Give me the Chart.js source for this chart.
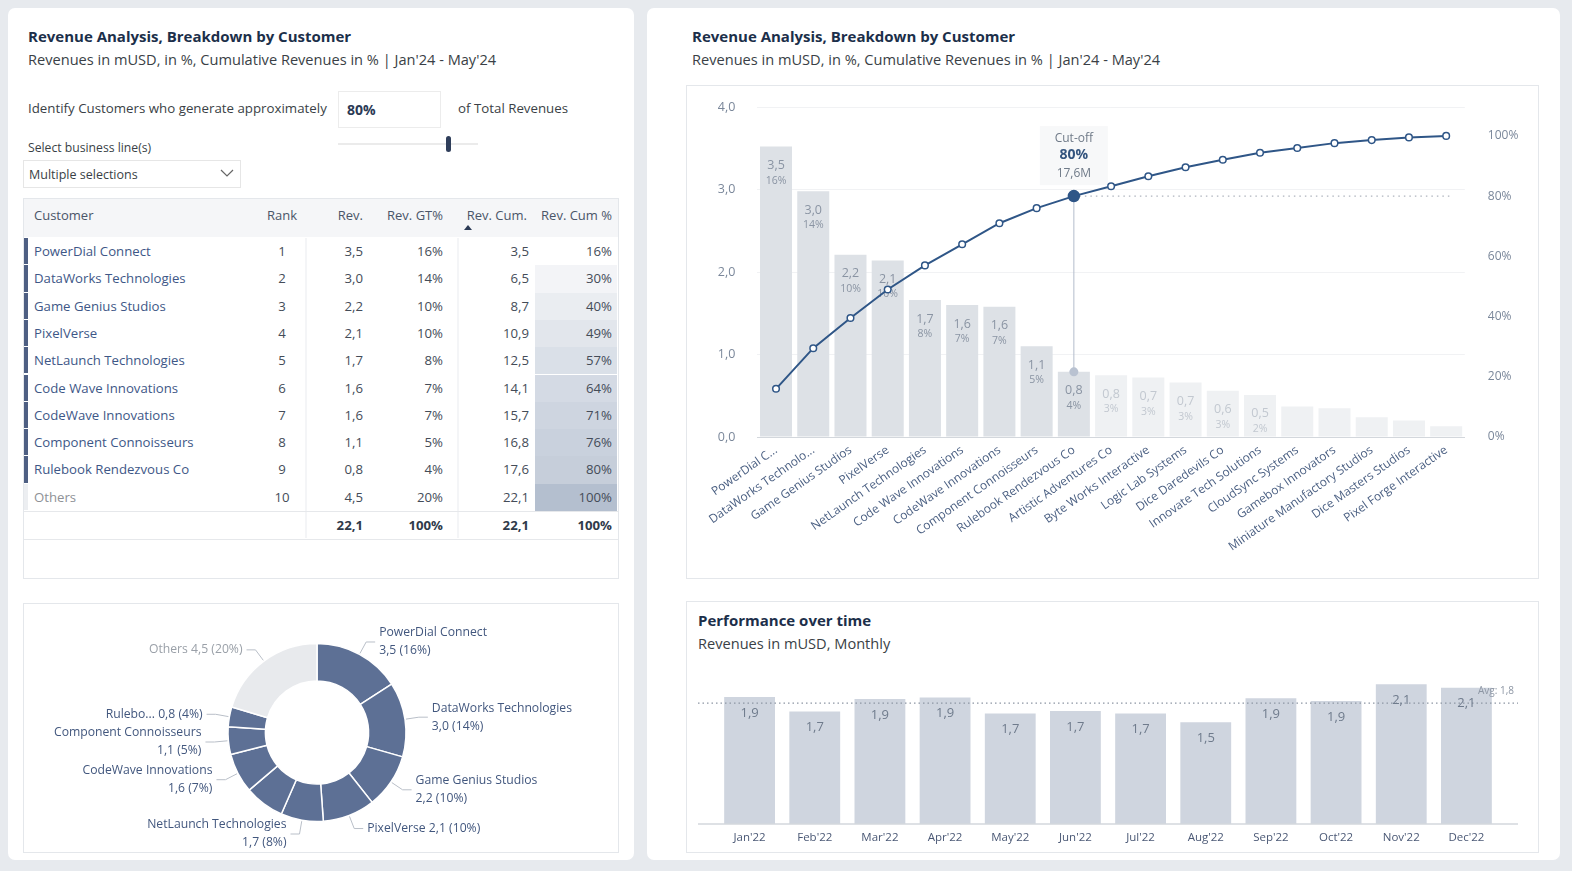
<!DOCTYPE html>
<html>
<head>
<meta charset="utf-8">
<title>Revenue Analysis</title>
<script src="https://cdn.jsdelivr.net/npm/chart.js@4.4.1/dist/chart.umd.min.js"></script>
<style>
  body { margin:0; width:1572px; height:871px; background:#e7eaee; font-family:'Open Sans', sans-serif; position:relative; overflow:hidden; }
  .panel { position:absolute; background:#fff; border-radius:7px; }
  .box { position:absolute; border:1px solid #e4e7eb; background:#fff; box-sizing:border-box; }
  .t { position:absolute; white-space:nowrap; }
  .title { font-size:15px; font-weight:700; color:#1c2f4a; line-height:20px; }
  .sub { font-size:14.6px; color:#3a3f46; line-height:20px; }
  .cell { position:absolute; white-space:nowrap; font-size:13.2px; line-height:27px; color:#444c58; }
  canvas { position:absolute; }
</style>
</head>
<body>
<div class="panel" style="left:8px;top:8px;width:626px;height:852px"></div>
<div class="panel" style="left:647px;top:8px;width:913px;height:852px"></div>

<div class="t title" style="left:28px;top:26px">Revenue Analysis, Breakdown by Customer</div>
<div class="t sub" style="left:28px;top:49px">Revenues in mUSD, in %, Cumulative Revenues in % | Jan'24 - May'24</div>
<div class="t" style="left:28px;top:99px;font-size:13.3px;color:#3a3f46">Identify Customers who generate approximately</div>
<div class="box" style="left:338px;top:91px;width:103px;height:37px;border-color:#ececec"></div>
<div class="t" style="left:347px;top:100px;font-size:14px;font-weight:700;color:#2b3a55">80%</div>
<div class="t" style="left:458px;top:99px;font-size:13.3px;color:#3a3f46">of Total Revenues</div>
<div style="position:absolute;left:338px;top:143px;width:140px;height:2px;background:#ebebeb"></div>
<div style="position:absolute;left:446px;top:136px;width:5px;height:16px;border-radius:3px;background:#2f3e5a"></div>
<div class="t" style="left:28px;top:139px;font-size:12.2px;color:#3a3f46">Select business line(s)</div>
<div class="box" style="left:23px;top:160px;width:218px;height:28px;border-color:#e6e6e6"></div>
<div class="t" style="left:29px;top:166px;font-size:12.5px;color:#3a3f46">Multiple selections</div>
<svg style="position:absolute;left:220px;top:169px" width="14" height="9"><polyline points="1,1 7,7 13,1" fill="none" stroke="#666" stroke-width="1.2"/></svg>

<div id="tbl" class="box" style="left:23px;top:198px;width:596px;height:381px"></div>

<div class="box" style="left:23px;top:603px;width:596px;height:250px"></div>
<canvas id="donut" width="593" height="247" style="left:24px;top:604px"></canvas>

<div class="t title" style="left:692px;top:26px">Revenue Analysis, Breakdown by Customer</div>
<div class="t sub" style="left:692px;top:49px">Revenues in mUSD, in %, Cumulative Revenues in % | Jan'24 - May'24</div>
<div class="box" style="left:686px;top:85px;width:853px;height:494px"></div>
<canvas id="pareto" width="852" height="490" style="left:686px;top:86px"></canvas>

<div class="box" style="left:686px;top:601px;width:853px;height:252px"></div>
<div class="t title" style="left:698px;top:610px">Performance over time</div>
<div class="t sub" style="left:698px;top:633px">Revenues in mUSD, Monthly</div>
<canvas id="perf" width="850" height="191" style="left:687px;top:660px"></canvas>

<script>
// ---- table / donut data (top customers, Jan'24 - May'24) ----
const customers = ['PowerDial Connect', 'DataWorks Technologies', 'Game Genius Studios', 'PixelVerse',
  'NetLaunch Technologies', 'Code Wave Innovations', 'CodeWave Innovations', 'Component Connoisseurs',
  'Rulebook Rendezvous Co', 'Others'];
const revenue = [3.5, 3.0, 2.2, 2.1, 1.7, 1.6, 1.6, 1.1, 0.8, 4.5];
const revGtPct = [16, 14, 10, 10, 8, 7, 7, 5, 4, 20];
const revCum = [3.5, 6.5, 8.7, 10.9, 12.5, 14.1, 15.7, 16.8, 17.6, 22.1];
const revCumPct = [16, 30, 40, 49, 57, 64, 71, 76, 80, 100];
const totalRevenue = 22.1;
const donutNames = ['PowerDial Connect', 'DataWorks Technologies', 'Game Genius Studios', 'PixelVerse',
  'NetLaunch Technologies', 'Code Wave Innovations', 'CodeWave Innovations', 'Component Connoisseurs',
  'Rulebo...', 'Others'];

// ---- pareto data (all customers) ----
const paretoLabels = ['PowerDial C...', 'DataWorks Technolo...', 'Game Genius Studios', 'PixelVerse',
  'NetLaunch Technologies', 'Code Wave Innovations', 'CodeWave Innovations', 'Component Connoisseurs',
  'Rulebook Rendezvous Co', 'Artistic Adventures Co', 'Byte Works Interactive', 'Logic Lab Systems',
  'Dice Daredevils Co', 'Innovate Tech Solutions', 'CloudSync Systems', 'Gamebox Innovators',
  'Miniature Manufactory Studios', 'Dice Masters Studios', 'Pixel Forge Interactive'];
const paretoRevenue = [3.52, 2.98, 2.21, 2.14, 1.66, 1.60, 1.58, 1.10, 0.79, 0.75, 0.72, 0.66, 0.56, 0.51,
  0.37, 0.35, 0.24, 0.20, 0.13];
const paretoPct = [16, 14, 10, 10, 8, 7, 7, 5, 4, 3, 3, 3, 3, 2];
const paretoCumPct = [16, 29.5, 39.5, 49, 57, 64, 71, 76, 80, 83.3, 86.6, 89.6, 92.1, 94.4, 96, 97.6, 98.6, 99.5, 100];
const cutoffIndex = 8;
const cutoffShare = '80%';
const cutoffRevenue = '17,6M';

// ---- monthly performance ----
const months = ["Jan'22", "Feb'22", "Mar'22", "Apr'22", "May'22", "Jun'22", "Jul'22", "Aug'22",
  "Sep'22", "Oct'22", "Nov'22", "Dec'22"];
const monthlyRevenue = [1.91, 1.69, 1.88, 1.90, 1.66, 1.70, 1.66, 1.53, 1.89, 1.85, 2.10, 2.05];

const fmt1 = v => (Math.round(v * 10) / 10).toFixed(1).replace('.', ',');
Chart.defaults.font.family = "'Open Sans', sans-serif";

// ---------- table ----------
const tbl = document.getElementById('tbl');
function cell(text, left, width, top, align, style) {
  const d = document.createElement('div');
  d.className = 'cell';
  d.textContent = text;
  d.style.left = left + 'px';
  d.style.top = top + 'px';
  if (width) { d.style.width = width + 'px'; d.style.textAlign = align; }
  if (style) Object.assign(d.style, style);
  tbl.appendChild(d);
  return d;
}
function rect(left, top, w, h, bg) {
  const d = document.createElement('div');
  Object.assign(d.style, { position: 'absolute', left: left + 'px', top: top + 'px', width: w + 'px', height: h + 'px', background: bg });
  tbl.appendChild(d);
}
rect(0, 0, 594, 38, '#f5f6f8');
const hdr = { color: '#4a5568', lineHeight: '32px', fontSize: '13px' };
cell('Customer', 10, 0, 0, 'left', hdr);
cell('Rank', 228, 60, 0, 'center', hdr);
cell('Rev.', 279, 60, 0, 'right', hdr);
cell('Rev. GT%', 339, 80, 0, 'right', hdr);
cell('Rev. Cum.', 423, 80, 0, 'right', hdr);
cell('Rev. Cum %', 508, 80, 0, 'right', hdr);
const tri = document.createElement('div');
Object.assign(tri.style, { position: 'absolute', left: '440px', top: '26px', width: 0, height: 0,
  borderLeft: '4px solid transparent', borderRight: '4px solid transparent', borderBottom: '5px solid #2b3a55' });
tbl.appendChild(tri);

const rowH = 27.3, rowTop = 39;
rect(281, rowTop, 2, rowH * 11, '#f4f5f7');
rect(433, rowTop, 2, rowH * 11, '#f4f5f7');
customers.forEach((name, i) => {
  const top = rowTop + rowH * i;
  const isOther = name === 'Others';
  rect(0, top, 3.5, rowH - 1, isOther ? '#eceef1' : '#4e5f83');
  const t = (revCumPct[i] - revCumPct[0]) / (100 - revCumPct[0]);
  const c = [255 - t * 75, 255 - t * 64, 255 - t * 48].map(Math.round);
  rect(511, top, 82, rowH, `rgb(${c[0]},${c[1]},${c[2]})`);
  cell(name, 10, 0, top, 'left', { color: isOther ? '#8e9196' : '#3e5787' });
  cell(String(i + 1), 228, 60, top, 'center');
  cell(fmt1(revenue[i]), 279, 60, top, 'right');
  cell(revGtPct[i] + '%', 339, 80, top, 'right');
  cell(fmt1(revCum[i]), 445, 60, top, 'right');
  cell(revCumPct[i] + '%', 508, 80, top, 'right');
});
const totTop = rowTop + rowH * 10;
rect(0, totTop, 594, 1, '#e6e8eb');
rect(0, totTop + 28, 594, 1, '#e6e8eb');
const bold = { fontWeight: '700', color: '#2f3a4a' };
cell(fmt1(totalRevenue), 279, 60, totTop + 1, 'right', bold);
cell('100%', 339, 80, totTop + 1, 'right', bold);
cell(fmt1(revCum[revCum.length - 1]), 445, 60, totTop + 1, 'right', bold);
cell('100%', 508, 80, totTop + 1, 'right', bold);

// ---------- donut ----------
const donutLabelPlugin = {
  id: 'donutLabels',
  afterDatasetsDraw(chart) {
    const ctx = chart.ctx;
    const meta = chart.getDatasetMeta(0);
    const singleLine = [3, 8, 9];
    const hidden = [5];
    ctx.save();
    ctx.font = "12.2px 'Open Sans'";
    meta.data.forEach((arc, i) => {
      if (hidden.includes(i)) return;
      const mid = (arc.startAngle + arc.endAngle) / 2;
      const r = arc.outerRadius;
      const cx = arc.x, cy = arc.y;
      const x1 = cx + Math.cos(mid) * (r + 1), y1 = cy + Math.sin(mid) * (r + 1);
      const x2 = cx + Math.cos(mid) * (r + 14), y2 = cy + Math.sin(mid) * (r + 14);
      const right = Math.cos(mid) >= 0;
      const x3 = x2 + (right ? 9 : -9);
      ctx.strokeStyle = '#b9bfc8';
      ctx.lineWidth = 1;
      ctx.beginPath(); ctx.moveTo(x1, y1); ctx.lineTo(x2, y2); ctx.lineTo(x3, y2); ctx.stroke();
      ctx.fillStyle = customers[i] === 'Others' ? '#9aa0a8' : '#42577e';
      ctx.textAlign = right ? 'left' : 'right';
      ctx.textBaseline = 'middle';
      const tx = x3 + (right ? 4 : -4);
      const valTxt = fmt1(revenue[i]) + ' (' + revGtPct[i] + '%)';
      if (singleLine.includes(i)) {
        ctx.fillText(donutNames[i] + ' ' + valTxt, tx, y2);
      } else {
        ctx.fillText(donutNames[i], tx, y2 - 9);
        ctx.fillText(valTxt, tx, y2 + 9);
      }
    });
    ctx.restore();
  }
};
new Chart(document.getElementById('donut'), {
  type: 'doughnut',
  data: {
    labels: donutNames,
    datasets: [{
      data: revenue,
      backgroundColor: customers.map(n => n === 'Others' ? '#e8eaed' : '#5d7095'),
      borderColor: '#fff',
      borderWidth: 1.5,
      radius: 89,
      cutout: '58%'
    }]
  },
  options: {
    animation: false, responsive: false,
    layout: { padding: { top: 10, right: 7, left: 0, bottom: 0 } },
    plugins: { legend: { display: false }, tooltip: { enabled: false } }
  },
  plugins: [donutLabelPlugin]
});

// ---------- pareto ----------
const paretoDecor = {
  id: 'paretoDecor',
  afterDatasetDraw(chart, args) {
    if (args.index !== 1) return;
    const ctx = chart.ctx;
    const bars = chart.getDatasetMeta(1).data;
    ctx.save();
    ctx.textAlign = 'center';
    ctx.textBaseline = 'middle';
    bars.forEach((bar, i) => {
      if (paretoPct[i] === undefined) return;
      ctx.fillStyle = i <= cutoffIndex ? '#8a94a3' : '#c2c8d0';
      ctx.font = "12.5px 'Open Sans'";
      ctx.fillText(fmt1(paretoRevenue[i]), bar.x, bar.y + 19);
      ctx.font = "10.5px 'Open Sans'";
      ctx.fillText(paretoPct[i] + '%', bar.x, bar.y + 34);
    });
    const pt = chart.getDatasetMeta(0).data[cutoffIndex];
    const last = chart.getDatasetMeta(0).data[paretoCumPct.length - 1];
    const cb = bars[cutoffIndex];
    // dotted threshold line
    ctx.strokeStyle = '#aeb4bd';
    ctx.lineWidth = 1.2;
    ctx.setLineDash([1.5, 4]);
    ctx.beginPath(); ctx.moveTo(pt.x, pt.y); ctx.lineTo(last.x + 4, pt.y); ctx.stroke();
    ctx.setLineDash([]);
    // drop line to the bar
    ctx.strokeStyle = '#b3bccb';
    ctx.lineWidth = 1;
    ctx.beginPath(); ctx.moveTo(pt.x, pt.y); ctx.lineTo(pt.x, cb.y); ctx.stroke();
    ctx.fillStyle = '#b9c2d1';
    ctx.beginPath(); ctx.arc(pt.x, cb.y, 4.5, 0, Math.PI * 2); ctx.fill();
    // cut-off callout
    ctx.fillStyle = '#f7f8f9';
    ctx.fillRect(pt.x - 34, pt.y - 70, 68, 59);
    ctx.fillStyle = '#6f7a88';
    ctx.font = "12px 'Open Sans'";
    ctx.fillText('Cut-off', pt.x, pt.y - 58);
    ctx.fillStyle = '#34557f';
    ctx.font = "bold 14px 'Open Sans'";
    ctx.fillText(cutoffShare, pt.x, pt.y - 41);
    ctx.fillStyle = '#6f7a88';
    ctx.font = "12px 'Open Sans'";
    ctx.fillText(cutoffRevenue, pt.x, pt.y - 23);
    ctx.restore();
  }
};
const noVPad = s => { s.paddingTop = 0; s.paddingBottom = 0; };
new Chart(document.getElementById('pareto'), {
  data: {
    labels: paretoLabels,
    datasets: [
      {
        type: 'line', label: 'Rev. Cum %', data: paretoCumPct, yAxisID: 'y1', order: 0,
        borderColor: '#2f5687', borderWidth: 2, tension: 0,
        pointRadius: c => c.dataIndex === cutoffIndex ? 5.5 : 3.3,
        pointBackgroundColor: c => c.dataIndex === cutoffIndex ? '#2f5687' : '#fff',
        pointBorderColor: '#2f5687', pointBorderWidth: 1.5
      },
      {
        type: 'bar', label: 'Rev.', data: paretoRevenue, yAxisID: 'y', order: 1,
        backgroundColor: paretoRevenue.map((v, i) => i <= cutoffIndex ? '#dde1e6' : '#eff1f3'),
        barPercentage: 0.86, categoryPercentage: 1
      }
    ]
  },
  options: {
    animation: false, responsive: false,
    layout: { padding: { top: 21, left: 0, right: 0, bottom: 0 } },
    plugins: { legend: { display: false }, tooltip: { enabled: false } },
    scales: {
      x: {
        grid: { display: false, drawTicks: false },
        border: { color: '#d3d7dc' },
        ticks: { autoSkip: false, minRotation: 35, maxRotation: 35, color: '#4a5f82', font: { size: 12 }, padding: 6 },
        afterFit: s => { s.height = 139; }
      },
      y: {
        position: 'left', min: 0, max: 4,
        ticks: { stepSize: 1, callback: v => fmt1(v), color: '#7a879a', font: { size: 12.5 }, padding: 22 },
        grid: { color: '#f1f2f4', drawTicks: false },
        border: { display: false },
        afterFit: s => { s.width = 71.4; noVPad(s); }
      },
      y1: {
        position: 'right', min: 0, max: 109.6,
        afterBuildTicks: s => { s.ticks = [0, 20, 40, 60, 80, 100].map(v => ({ value: v })); },
        ticks: { callback: v => v + '%', color: '#7a879a', font: { size: 12 }, padding: 23 },
        grid: { display: false, drawTicks: false },
        border: { display: false },
        afterFit: s => { s.width = 73.2; noVPad(s); }
      }
    }
  },
  plugins: [paretoDecor]
});

// ---------- performance over time ----------
const perfDecor = {
  id: 'perfDecor',
  afterDatasetsDraw(chart) {
    const ctx = chart.ctx;
    const area = chart.chartArea;
    const yScale = chart.scales.y;
    const avg = monthlyRevenue.reduce((a, b) => a + b, 0) / monthlyRevenue.length;
    const ay = yScale.getPixelForValue(avg);
    ctx.save();
    ctx.strokeStyle = '#d3d7dc';
    ctx.lineWidth = 1.5;
    ctx.beginPath(); ctx.moveTo(area.left - 19, area.bottom); ctx.lineTo(area.right + 19, area.bottom); ctx.stroke();
    ctx.strokeStyle = '#8d96a4';
    ctx.lineWidth = 1.2;
    ctx.setLineDash([1.5, 3]);
    ctx.beginPath(); ctx.moveTo(area.left - 19, ay); ctx.lineTo(area.right + 19, ay); ctx.stroke();
    ctx.setLineDash([]);
    ctx.fillStyle = '#8d96a4';
    ctx.font = "10px 'Open Sans'";
    ctx.textAlign = 'right';
    ctx.textBaseline = 'middle';
    ctx.fillText('Avg: ' + fmt1(avg), area.right + 15, ay - 12);
    ctx.fillStyle = '#6f7b8c';
    ctx.font = "13px 'Open Sans'";
    ctx.textAlign = 'center';
    chart.getDatasetMeta(0).data.forEach((bar, i) => {
      ctx.fillText(fmt1(monthlyRevenue[i]), bar.x, bar.y + 16);
    });
    ctx.restore();
  }
};
new Chart(document.getElementById('perf'), {
  type: 'bar',
  data: {
    labels: months,
    datasets: [{ data: monthlyRevenue, backgroundColor: '#cfd5df', barPercentage: 0.78, categoryPercentage: 1 }]
  },
  options: {
    animation: false, responsive: false,
    layout: { padding: { left: 30, right: 38, top: 11, bottom: 0 } },
    plugins: { legend: { display: false }, tooltip: { enabled: false } },
    scales: {
      x: {
        grid: { display: false, drawTicks: false },
        border: { display: false },
        ticks: { color: '#4a5875', font: { size: 11.5 }, padding: 7 },
        afterFit: s => { s.height = 27; }
      },
      y: { display: false, min: 0, max: 2.3 }
    }
  },
  plugins: [perfDecor]
});
</script>
</body>
</html>
